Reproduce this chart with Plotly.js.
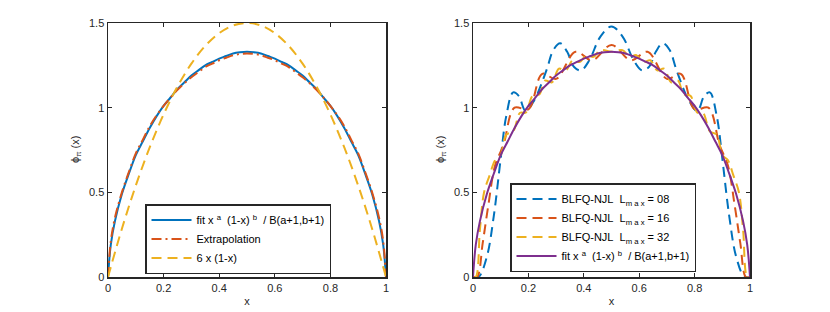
<!DOCTYPE html>
<html>
<head>
<meta charset="utf-8">
<script src="https://cdn.plot.ly/plotly-3.0.1.min.js"></script>
<style>html,body{margin:0;padding:0;background:#fff;}#chart{width:830px;height:312px;}</style>
</head>
<body>
<div id="chart"></div>
<script>
// ---------- data ----------
var fitX = [0,0.01,0.025,0.05,0.075,0.1,0.125,0.15,0.175,0.2,0.225,0.25,0.275,0.3,0.325,0.35,0.375,0.4,0.425,0.45,0.475,0.5,0.525,0.55,0.575,0.6,0.625,0.65,0.675,0.7,0.725,0.75,0.775,0.8,0.825,0.85,0.875,0.9,0.925,0.95,0.975,0.99,1];
var fitY = [0,0.19,0.33,0.49,0.61,0.72,0.80,0.88,0.95,1.01,1.06,1.11,1.15,1.19,1.22,1.25,1.27,1.29,1.305,1.32,1.327,1.33,1.327,1.32,1.305,1.29,1.27,1.25,1.22,1.19,1.15,1.11,1.06,1.01,0.95,0.88,0.80,0.72,0.61,0.49,0.33,0.19,0];

var extrapX = [0,0.01,0.025,0.05,0.075,0.1,0.125,0.15,0.175,0.2,0.225,0.25,0.275,0.3,0.325,0.35,0.375,0.4,0.425,0.45,0.475,0.5,0.525,0.55,0.575,0.6,0.625,0.65,0.675,0.7,0.725,0.75,0.775,0.8,0.825,0.85,0.875,0.9,0.925,0.95,0.975,0.99,1];
var extrapY = [0,0.21,0.35,0.50,0.62,0.73,0.81,0.89,0.955,1.01,1.06,1.105,1.145,1.18,1.21,1.24,1.26,1.28,1.295,1.31,1.317,1.32,1.317,1.31,1.295,1.28,1.26,1.24,1.21,1.18,1.145,1.105,1.06,1.01,0.955,0.89,0.81,0.73,0.62,0.50,0.35,0.21,0];

var parabX = [0,0.05,0.1,0.15,0.2,0.25,0.3,0.35,0.4,0.45,0.5,0.55,0.6,0.65,0.7,0.75,0.8,0.85,0.9,0.95,1];
var parabY = [0,0.285,0.54,0.765,0.96,1.125,1.26,1.365,1.44,1.485,1.5,1.485,1.44,1.365,1.26,1.125,0.96,0.765,0.54,0.285,0];

var l08X = [0,0.02,0.05,0.075,0.1,0.12,0.145,0.165,0.19,0.22,0.265,0.29,0.315,0.34,0.365,0.39,0.42,0.46,0.5,0.54,0.58,0.61,0.635,0.66,0.685,0.71,0.735,0.78,0.81,0.835,0.855,0.88,0.9,0.925,0.95,0.98,1];
var l08Y = [0,0,0.12,0.36,0.7,0.95,1.09,1.07,0.98,1.04,1.22,1.34,1.38,1.33,1.24,1.22,1.28,1.42,1.48,1.42,1.28,1.22,1.24,1.33,1.38,1.34,1.22,1.04,0.98,1.07,1.09,0.95,0.7,0.36,0.12,0,0];

var l16X = [0,0.015,0.035,0.055,0.08,0.11,0.15,0.2,0.25,0.3,0.37,0.43,0.5,0.57,0.63,0.7,0.75,0.8,0.85,0.89,0.92,0.945,0.965,0.985,1];
var l16Y = [0,0,0.20,0.42,0.66,0.78,1.0,0.99,1.20,1.17,1.33,1.28,1.37,1.28,1.33,1.17,1.20,0.99,1.0,0.78,0.66,0.42,0.20,0,0];

var l32X = [0,0.01,0.025,0.04,0.06,0.08,0.1,0.12,0.145,0.17,0.19,0.215,0.24,0.26,0.285,0.31,0.335,0.36,0.385,0.41,0.435,0.46,0.5,0.54,0.565,0.59,0.615,0.64,0.665,0.69,0.715,0.74,0.76,0.785,0.81,0.83,0.855,0.88,0.9,0.92,0.94,0.96,0.975,0.99,1];
var l32Y = [0,0,0.28,0.50,0.60,0.69,0.72,0.84,0.86,0.97,0.97,1.07,1.08,1.16,1.15,1.23,1.22,1.28,1.27,1.31,1.30,1.34,1.33,1.34,1.30,1.31,1.27,1.28,1.22,1.23,1.15,1.16,1.08,1.07,0.97,0.97,0.86,0.84,0.72,0.69,0.60,0.50,0.28,0,0];

var xTicks = [0,0.2,0.4,0.6,0.8,1];
var xTickText = ['0','0.2','0.4','0.6','0.8','1'];
var yTicks = [0,0.5,1,1.5];
var yTickText = ['0','0.5','1','1.5'];

var yTitle = 'ϕ<sub>π</sub> (x)';
var xTitle = 'x';
var names = {
  fit: 'fit x&nbsp;<sup>a</sup>&nbsp;&nbsp;(1-x)&nbsp;<sup>b</sup>&nbsp;&nbsp;/ B(a+1,b+1)',
  extrap: 'Extrapolation',
  parab: '6 x (1-x)',
  l08: 'BLFQ-NJL&nbsp;&nbsp;L<sub>m a x</sub> = 08',
  l16: 'BLFQ-NJL&nbsp;&nbsp;L<sub>m a x</sub> = 16',
  l32: 'BLFQ-NJL&nbsp;&nbsp;L<sub>m a x</sub> = 32'
};

// ---------- traces ----------
var LW = 2;
var traces = [
  {x: fitX, y: fitY, name: names.fit, mode: 'lines', xaxis: 'x', yaxis: 'y', legend: 'legend',
   line: {color: '#0072BD', width: LW, shape: 'spline'}},
  {x: extrapX, y: extrapY, name: names.extrap, mode: 'lines', xaxis: 'x', yaxis: 'y', legend: 'legend',
   line: {color: '#D95319', width: LW, dash: '10px,4px,2px,4px', shape: 'spline'}},
  {x: parabX, y: parabY, name: names.parab, mode: 'lines', xaxis: 'x', yaxis: 'y', legend: 'legend',
   line: {color: '#EDB120', width: LW, dash: '10px,6px', shape: 'spline'}},

  {x: l08X, y: l08Y, name: names.l08, mode: 'lines', xaxis: 'x2', yaxis: 'y2', legend: 'legend2',
   line: {color: '#0072BD', width: LW, dash: '10px,6px', shape: 'spline'}},
  {x: l16X, y: l16Y, name: names.l16, mode: 'lines', xaxis: 'x2', yaxis: 'y2', legend: 'legend2',
   line: {color: '#D95319', width: LW, dash: '10px,6px', shape: 'spline'}},
  {x: l32X, y: l32Y, name: names.l32, mode: 'lines', xaxis: 'x2', yaxis: 'y2', legend: 'legend2',
   line: {color: '#EDB120', width: LW, dash: '10px,6px', shape: 'spline'}},
  {x: fitX, y: fitY, name: names.fit, mode: 'lines', xaxis: 'x2', yaxis: 'y2', legend: 'legend2',
   line: {color: '#7E2F8E', width: LW, shape: 'spline'}}
];

var FONT = 'Liberation Sans, Arial, Helvetica, sans-serif';
var AX = '#262626';
function xAxis(dom, anchor) {
  return {domain: dom, anchor: anchor, range: [0, 1], tickvals: xTicks, ticktext: xTickText,
    showline: true, mirror: 'ticks', ticks: 'inside', ticklen: 4, tickwidth: 1, tickcolor: AX,
    linecolor: AX, linewidth: 1.5, showgrid: false, zeroline: false,
    tickfont: {family: FONT, size: 11, color: AX},
    title: {text: xTitle, font: {family: FONT, size: 11, color: AX}, standoff: 4}};
}
function yAxis(dom, anchor) {
  return {domain: dom, anchor: anchor, range: [0, 1.5], tickvals: yTicks, ticktext: yTickText,
    showline: true, mirror: 'ticks', ticks: 'inside', ticklen: 4, tickwidth: 1, tickcolor: AX,
    linecolor: AX, linewidth: 1.5, showgrid: false, zeroline: false,
    tickfont: {family: FONT, size: 11, color: AX}};
}
var yDom = [35/312, 289/312];
var legendBase = {bgcolor: '#ffffff', bordercolor: AX, borderwidth: 1.5,
  font: {family: FONT, size: 11, color: '#000'}, xanchor: 'left', yanchor: 'top',
  itemwidth: 40, tracegroupgap: 0};

function yTitleAnn(px) {
  return {text: yTitle, xref: 'paper', yref: 'paper', x: px/830, y: (yDom[0]+yDom[1])/2,
    xanchor: 'center', yanchor: 'middle', textangle: -90, showarrow: false,
    font: {family: FONT, size: 11, color: AX}};
}

var layout = {
  width: 830, height: 312,
  margin: {l: 0, r: 0, t: 0, b: 0},
  paper_bgcolor: '#ffffff', plot_bgcolor: '#ffffff',
  showlegend: true,
  xaxis: xAxis([108/830, 386/830], 'y'),
  yaxis: yAxis(yDom, 'x'),
  xaxis2: xAxis([473/830, 750/830], 'y2'),
  yaxis2: yAxis(yDom, 'x2'),
  legend: Object.assign({}, legendBase, {x: 145/830, y: (312-204)/312}),
  legend2: Object.assign({}, legendBase, {x: 510/830, y: (312-183)/312}),
  annotations: [yTitleAnn(76), yTitleAnn(441)]
};

Plotly.newPlot('chart', traces, layout, {staticPlot: true, displayModeBar: false});
</script>
</body>
</html>
